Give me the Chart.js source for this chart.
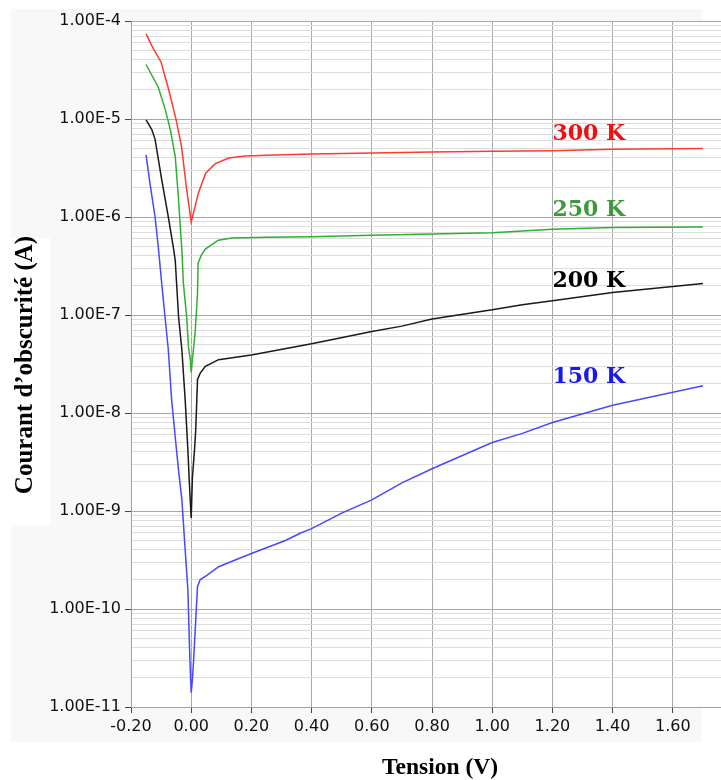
<!DOCTYPE html>
<html>
<head>
<meta charset="utf-8">
<script src="https://cdn.jsdelivr.net/npm/chart.js@4.4.1/dist/chart.umd.min.js"></script>
<style>
  html, body { margin: 0; padding: 0; background: #fff; }
  canvas { display: block; }
</style>
</head>
<body>
<canvas id="ivChart" width="721" height="780"></canvas>
<script>
// Tension (V) / dark current (A)
const v300 = [-0.15, -0.13, -0.10, -0.075, -0.05, -0.032, -0.016, 0.0, 0.024, 0.048, 0.08, 0.125, 0.18, 0.28, 0.4, 0.6, 0.8, 1.0, 1.2, 1.4, 1.7];
const i300 = [7.4e-5, 5.5e-5, 3.8e-5, 2.0e-5, 9.8e-6, 5.2e-6, 2.0e-6, 8.9e-7, 1.76e-6, 2.8e-6, 3.5e-6, 4.0e-6, 4.2e-6, 4.3e-6, 4.4e-6, 4.5e-6, 4.6e-6, 4.7e-6, 4.75e-6, 4.9e-6, 5.0e-6];

const v250 = [-0.15, -0.109, -0.086, -0.069, -0.053, -0.042, -0.035, -0.031, -0.026, -0.015, -0.009, -0.003, 0.0,
              0.004, 0.013, 0.021, 0.023, 0.034, 0.047, 0.09, 0.135, 0.25, 0.4, 0.6, 0.8, 1.0, 1.2, 1.4, 1.7];
const i250 = [3.6e-5, 2.1e-5, 1.24e-5, 7.7e-6, 4.1e-6, 1.5e-6, 6.9e-7, 4.6e-7, 2.1e-7, 9.5e-8, 4.7e-8, 3.5e-8, 2.6e-8,
              3.5e-8, 6.6e-8, 1.66e-7, 3.4e-7, 4.1e-7, 4.7e-7, 5.8e-7, 6.1e-7, 6.2e-7, 6.3e-7, 6.5e-7, 6.7e-7, 6.9e-7, 7.5e-7, 7.8e-7, 7.9e-7];

const v200 = [-0.15, -0.131, -0.12, -0.098, -0.076, -0.059, -0.053, -0.042, -0.031, -0.02, -0.011, -0.006, 0.0,
              0.004, 0.011, 0.015, 0.021, 0.03, 0.047, 0.091, 0.2, 0.4, 0.6, 0.7, 0.8, 1.0, 1.1, 1.2, 1.4, 1.7];
const i200 = [9.8e-6, 7.8e-6, 6.2e-6, 2.4e-6, 1.0e-6, 4.8e-7, 3.6e-7, 9.6e-8, 4.4e-8, 1.36e-8, 4.2e-9, 1.9e-9, 8.5e-10,
              2.2e-9, 4.2e-9, 6.7e-9, 2.2e-8, 2.55e-8, 3.0e-8, 3.5e-8, 3.9e-8, 5.1e-8, 6.8e-8, 7.7e-8, 9.1e-8, 1.13e-7, 1.27e-7, 1.4e-7, 1.7e-7, 2.1e-7];

const v150 = [-0.15, -0.137, -0.12, -0.109, -0.098, -0.087, -0.076, -0.065, -0.051, -0.042, -0.031, -0.02, -0.011, -0.007, -0.003, 0.0,
              0.004, 0.008, 0.015, 0.021, 0.03, 0.052, 0.091, 0.202, 0.313, 0.36, 0.4, 0.5, 0.6, 0.7, 0.8, 1.0, 1.1, 1.2, 1.4, 1.7];
const i150 = [4.3e-6, 2.2e-6, 1.0e-6, 4.8e-7, 2.1e-7, 9.6e-8, 4.4e-8, 1.36e-8, 4.9e-9, 2.6e-9, 1.3e-9, 4.0e-10, 1.56e-10, 5.7e-11, 2.3e-11, 1.4e-11,
              1.9e-11, 3.0e-11, 7.7e-11, 1.7e-10, 2.0e-10, 2.2e-10, 2.7e-10, 3.7e-10, 5.0e-10, 5.9e-10, 6.6e-10, 9.5e-10, 1.3e-9, 1.94e-9, 2.7e-9, 5.0e-9, 6.2e-9, 8.0e-9, 1.2e-8, 1.9e-8];

const xTicks = [-0.2, 0.0, 0.2, 0.4, 0.6, 0.8, 1.0, 1.2, 1.4, 1.6];
const yDecades = [1e-11, 1e-10, 1e-9, 1e-8, 1e-7, 1e-6, 1e-5, 1e-4];

const seriesNames = ['300 K', '250 K', '200 K', '150 K'];
const lineColors = ['#ff3a2e', '#2fb02f', '#1a1a1a', '#4848ff'];
const labelColors = ['#ee1111', '#3c9a3c', '#000000', '#1a1aee'];
const labelAt = [[1.2, 7.0e-6], [1.2, 1.18e-6], [1.2, 2.2e-7], [1.2, 2.3e-8]];

const pairs = (xs, ys) => xs.map((x, k) => ({ x: x, y: ys[k] }));
const allV = [v300, v250, v200, v150];
const allI = [i300, i250, i200, i150];

// log grid: decades plus 2..9 in between
const yTicks = [];
yDecades.forEach((d, k) => {
    yTicks.push(d);
    if (k < yDecades.length - 1) {
        for (let m = 2; m <= 9; m++) yTicks.push(m * d);
    }
});
const isDecade = v => Math.abs(Math.log10(v) - Math.round(Math.log10(v))) < 1e-6;

const decor = {
    id: 'decor',
    beforeDraw(chart) {
        const c = chart.ctx, a = chart.chartArea;
        c.save();
        c.fillStyle = '#ffffff';
        c.fillRect(0, 0, chart.width, chart.height);
        c.fillStyle = '#f8f8f8';
        c.fillRect(11, 9, 691, 733);
        c.fillStyle = '#ffffff';
        c.fillRect(11, 238, 39, 287);
        c.fillRect(a.left, a.top, a.right - a.left, a.bottom - a.top);
        c.restore();
    },
    afterDraw(chart) {
        const c = chart.ctx, xs = chart.scales.x, ys = chart.scales.y;
        c.save();
        // curve labels
        c.font = 'bold 22px "DejaVu Serif"';
        c.textBaseline = 'middle';
        c.textAlign = 'left';
        seriesNames.forEach((name, k) => {
            c.fillStyle = labelColors[k];
            c.fillText(name, xs.getPixelForValue(labelAt[k][0]), ys.getPixelForValue(labelAt[k][1]));
        });
        // axis titles
        c.fillStyle = '#000';
        c.textAlign = 'center';
        c.font = 'bold 23.5px "Liberation Serif"';
        c.fillText('Tension (V)', 440, 768);
        c.font = 'bold 25px "Liberation Serif"';
        c.translate(26, 365);
        c.rotate(-Math.PI / 2);
        c.fillText('Courant d\u2019obscurit\u00e9 (A)', 0, 0);
        c.restore();
    }
};

new Chart(document.getElementById('ivChart').getContext('2d'), {
    type: 'line',
    data: {
        datasets: seriesNames.map((name, k) => ({
            label: name,
            data: pairs(allV[k], allI[k]),
            borderColor: lineColors[k],
            borderWidth: 1.5,
            pointRadius: 0,
            tension: 0,
            fill: false
        }))
    },
    options: {
        responsive: false,
        animation: false,
        layout: { padding: { top: 21, right: 0, bottom: 0, left: 0 } },
        plugins: {
            legend: { display: false },
            tooltip: { enabled: false }
        },
        scales: {
            x: {
                type: 'linear',
                min: -0.2,
                max: 1.76,
                afterBuildTicks: scale => { scale.ticks = xTicks.map(v => ({ value: v })); },
                afterFit: scale => { scale.height = 73; },
                grid: { color: '#a8a8a8', lineWidth: 1, tickLength: 6, tickColor: '#444' },
                border: { color: '#a0a0a0' },
                ticks: {
                    autoSkip: false,
                    maxRotation: 0,
                    padding: 4,
                    color: '#111',
                    font: { family: 'DejaVu Sans', size: 16 },
                    callback: v => v.toFixed(2)
                }
            },
            y: {
                type: 'logarithmic',
                min: 1e-11,
                max: 1e-4,
                afterBuildTicks: scale => { scale.ticks = yTicks.map(v => ({ value: v })); },
                afterFit: scale => { scale.width = 131; },
                grid: {
                    lineWidth: 1,
                    tickLength: 6,
                    color: ctx => isDecade(ctx.tick.value) ? '#a8a8a8' : '#dcdcdc',
                    tickColor: ctx => isDecade(ctx.tick.value) ? '#444' : 'rgba(0,0,0,0)'
                },
                border: { color: '#a0a0a0' },
                ticks: {
                    autoSkip: false,
                    padding: 4,
                    color: '#111',
                    font: { family: 'DejaVu Sans', size: 16 },
                    callback: v => isDecade(v) ? Number(v).toExponential(2).toUpperCase() : ''
                }
            }
        }
    },
    plugins: [decor]
});
</script>
</body>
</html>
